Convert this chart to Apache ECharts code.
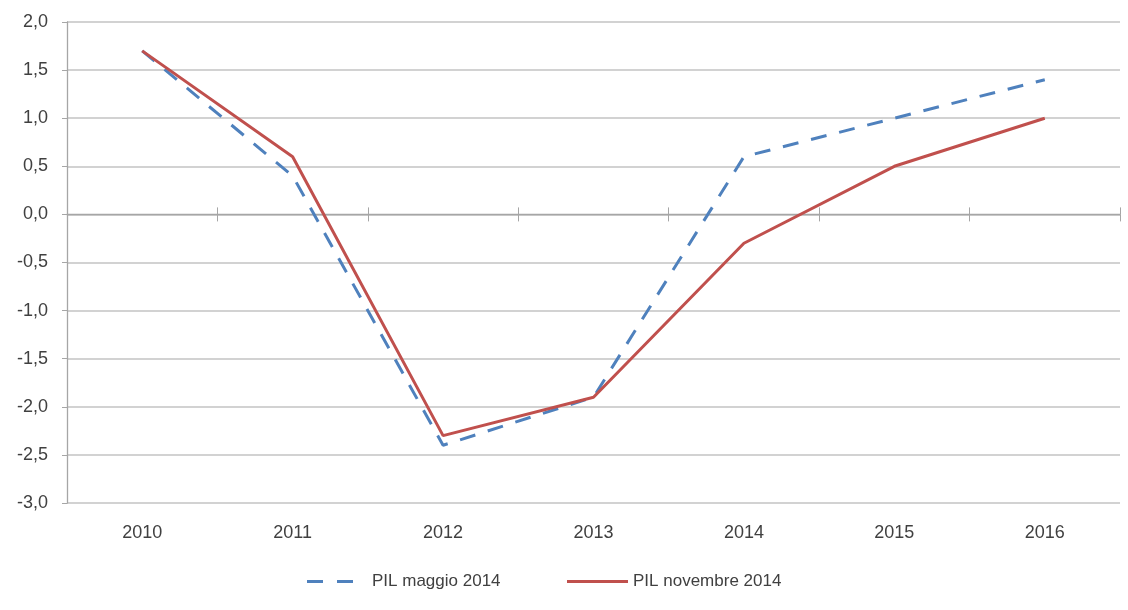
<!DOCTYPE html>
<html><head><meta charset="utf-8">
<script src="https://cdn.jsdelivr.net/npm/echarts@6/dist/echarts.min.js"></script>
<style>html,body{margin:0;padding:0;background:#fff}#c{width:1128px;height:610px}</style>
</head><body><div id="c"></div>
<script>
const categories = ['2010','2011','2012','2013','2014','2015','2016'];
const pilMaggio = [1.7, 0.4, -2.4, -1.9, 0.6, 1.0, 1.4];
const pilNovembre = [1.7, 0.6, -2.3, -1.9, -0.3, 0.5, 1.0];
const seriesNames = ['PIL maggio 2014', 'PIL novembre 2014'];
const yMin = -3, yMax = 2, yStep = 0.5;

const font = '"Liberation Sans", Arial, sans-serif';
const gridColor = '#c3c3c3';
const axisColor = '#a6a6a6';
const blue = '#4f81bd', red = '#c0504d';
const chart = echarts.init(document.getElementById('c'), null, {renderer:'canvas'});
chart.setOption({
  animation: false,
  backgroundColor: '#fff',
  grid: {left: 67, right: 8, top: 22, bottom: 107},
  legend: [
    {left: 302, top: 568, itemWidth: 46, itemHeight: 3,
     icon: 'path://M0,0H16V3H0Z M30,0H46V3H30Z',
     itemStyle: {color: blue},
     textStyle: {fontFamily: font, fontSize: 17, color: '#404040', padding: [0,0,0,14]},
     data: [seriesNames[0]]},
    {left: 562, top: 568, itemWidth: 61, itemHeight: 3, icon: 'rect',
     itemStyle: {color: red},
     textStyle: {fontFamily: font, fontSize: 17, color: '#404040'},
     data: [seriesNames[1]]}
  ],
  xAxis: [
    {type:'category', data: categories, position:'bottom', axisLine:{show:false, onZero:false},
     axisTick:{show:false}, axisLabel:{margin:21, fontFamily:font, fontSize:18, color:'#404040'}, splitLine:{show:false}},
    {type:'category', data: categories, position:'bottom', axisLine:{show:true, onZero:true, onZeroAxisIndex:0, lineStyle:{color:axisColor, width:1.3}},
     axisTick:{show:true, length:7, lineStyle:{color:axisColor}}, axisLabel:{show:false}},
    {type:'category', data: categories, position:'top', axisLine:{show:false, onZero:true, onZeroAxisIndex:1},
     axisTick:{show:true, length:7, lineStyle:{color:axisColor}}, axisLabel:{show:false}}
  ],
  yAxis: [
    {type:'value', min:yMin, max:yMax, interval:yStep,
     axisLine:{show:true, lineStyle:{color:axisColor, width:1.3}},
     axisTick:{show:true, length:5, lineStyle:{color:axisColor}},
     axisLabel:{margin:19, fontFamily:font, fontSize:18, color:'#404040',
       formatter: v => v.toFixed(1).replace('.', ',')},
     splitLine:{show:true, lineStyle:{color:gridColor, width:1.5}}},
    {type:'value', min:yMin, max:yMax, interval:yStep, position:'right',
     axisLine:{show:false}, axisTick:{show:false}, axisLabel:{show:false}, splitLine:{show:false}}
  ],
  series: [
    {name: seriesNames[0], type:'line', xAxisIndex:0, yAxisIndex:0, data: pilMaggio, symbol:'none',
     lineStyle:{color:blue, width:3, type:[16,13]}, itemStyle:{color:blue}},
    {name: seriesNames[1], type:'line', xAxisIndex:0, yAxisIndex:0, data: pilNovembre, symbol:'none',
     lineStyle:{color:red, width:3}, itemStyle:{color:red}}
  ]
});
</script></body></html>
